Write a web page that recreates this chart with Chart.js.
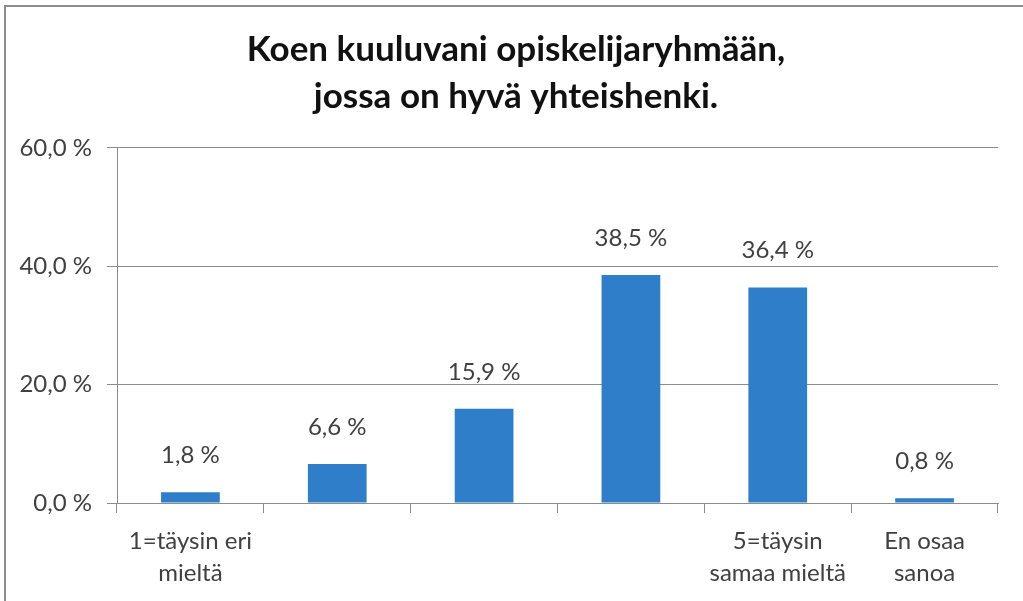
<!DOCTYPE html>
<html>
<head>
<meta charset="utf-8">
<script src="https://cdn.jsdelivr.net/npm/chart.js@4"></script>
<style>
  html, body { margin: 0; padding: 0; background: #fff; overflow: hidden; }
  #stage { position: absolute; left: 0; top: 0; width: 1032px; height: 601px; }
  #frame { position: absolute; left: 4px; top: 5px; width: 1100px; height: 700px; border-left: 2px solid #8c8c8c; border-top: 2px solid #8c8c8c; pointer-events: none; }
</style>
</head>
<body>
<div id="stage"><canvas id="chart"></canvas></div>
<div id="frame"></div>
<script>
// values
const categories = [
  ['1=täysin eri', 'mieltä'],
  '',
  '',
  '',
  ['5=täysin', 'samaa mieltä'],
  ['En osaa', 'sanoa']
];
const shares = [1.8, 6.6, 15.9, 38.5, 36.4, 0.8];
const yTicks = [0, 20, 40, 60];

const fmt = v => v.toFixed(1).replace('.', ',') + ' %';

const valueLabels = {
  id: 'valueLabels',
  afterDatasetsDraw(chart) {
    const ctx = chart.ctx;
    const meta = chart.getDatasetMeta(0);
    ctx.save();
    ctx.font = '24px Lato';
    ctx.fillStyle = '#404040';
    ctx.textAlign = 'center';
    ctx.textBaseline = 'middle';
    meta.data.forEach((bar, i) => {
      ctx.fillText(fmt(shares[i]), bar.x, bar.y - 37);
    });
    ctx.restore();
  }
};

new Chart(document.getElementById('chart'), {
  type: 'bar',
  data: {
    labels: categories,
    datasets: [{
      data: shares,
      yAxisID: 'y',
      backgroundColor: '#2e7ec9',
      borderWidth: 0,
      barPercentage: 0.4,
      categoryPercentage: 1
    }]
  },
  options: {
    responsive: true,
    maintainAspectRatio: false,
    animation: false,
    layout: { padding: 0 },
    plugins: {
      legend: { display: false },
      tooltip: { enabled: false },
      title: {
        display: true,
        text: ['Koen kuuluvani opiskelijaryhmään,', 'jossa on hyvä yhteishenki.'],
        color: '#111',
        font: { family: 'Lato', size: 35, weight: 'bold', lineHeight: 1.34 },
        padding: { top: 26, bottom: 28 }
      }
    },
    scales: {
      x: {
        offset: true,
        grid: { offset: true, drawOnChartArea: false, color: '#8c8c8c', tickLength: 10 },
        border: { color: '#8c8c8c' },
        ticks: { color: '#404040', font: { family: 'Lato', size: 24, lineHeight: 1.33 }, padding: 12, maxRotation: 0, autoSkip: false },
        afterFit: s => { s.height = 98; }
      },
      y: {
        min: 0,
        max: 60,
        afterBuildTicks: s => { s.ticks = yTicks.map(v => ({ value: v })); },
        grid: { color: '#8c8c8c', tickLength: 10 },
        border: { color: '#8c8c8c' },
        ticks: { color: '#404040', font: { family: 'Lato', size: 24 }, padding: 15, callback: v => fmt(v) },
        afterFit: s => { s.width = 117; }
      },
      // empty spacer on the right so the plot ends where the reference does
      spacer: {
        position: 'right',
        grid: { display: false },
        ticks: { display: false },
        border: { display: false },
        afterFit: s => { s.width = 34; }
      }
    }
  },
  plugins: [valueLabels]
});
</script>
</body>
</html>
